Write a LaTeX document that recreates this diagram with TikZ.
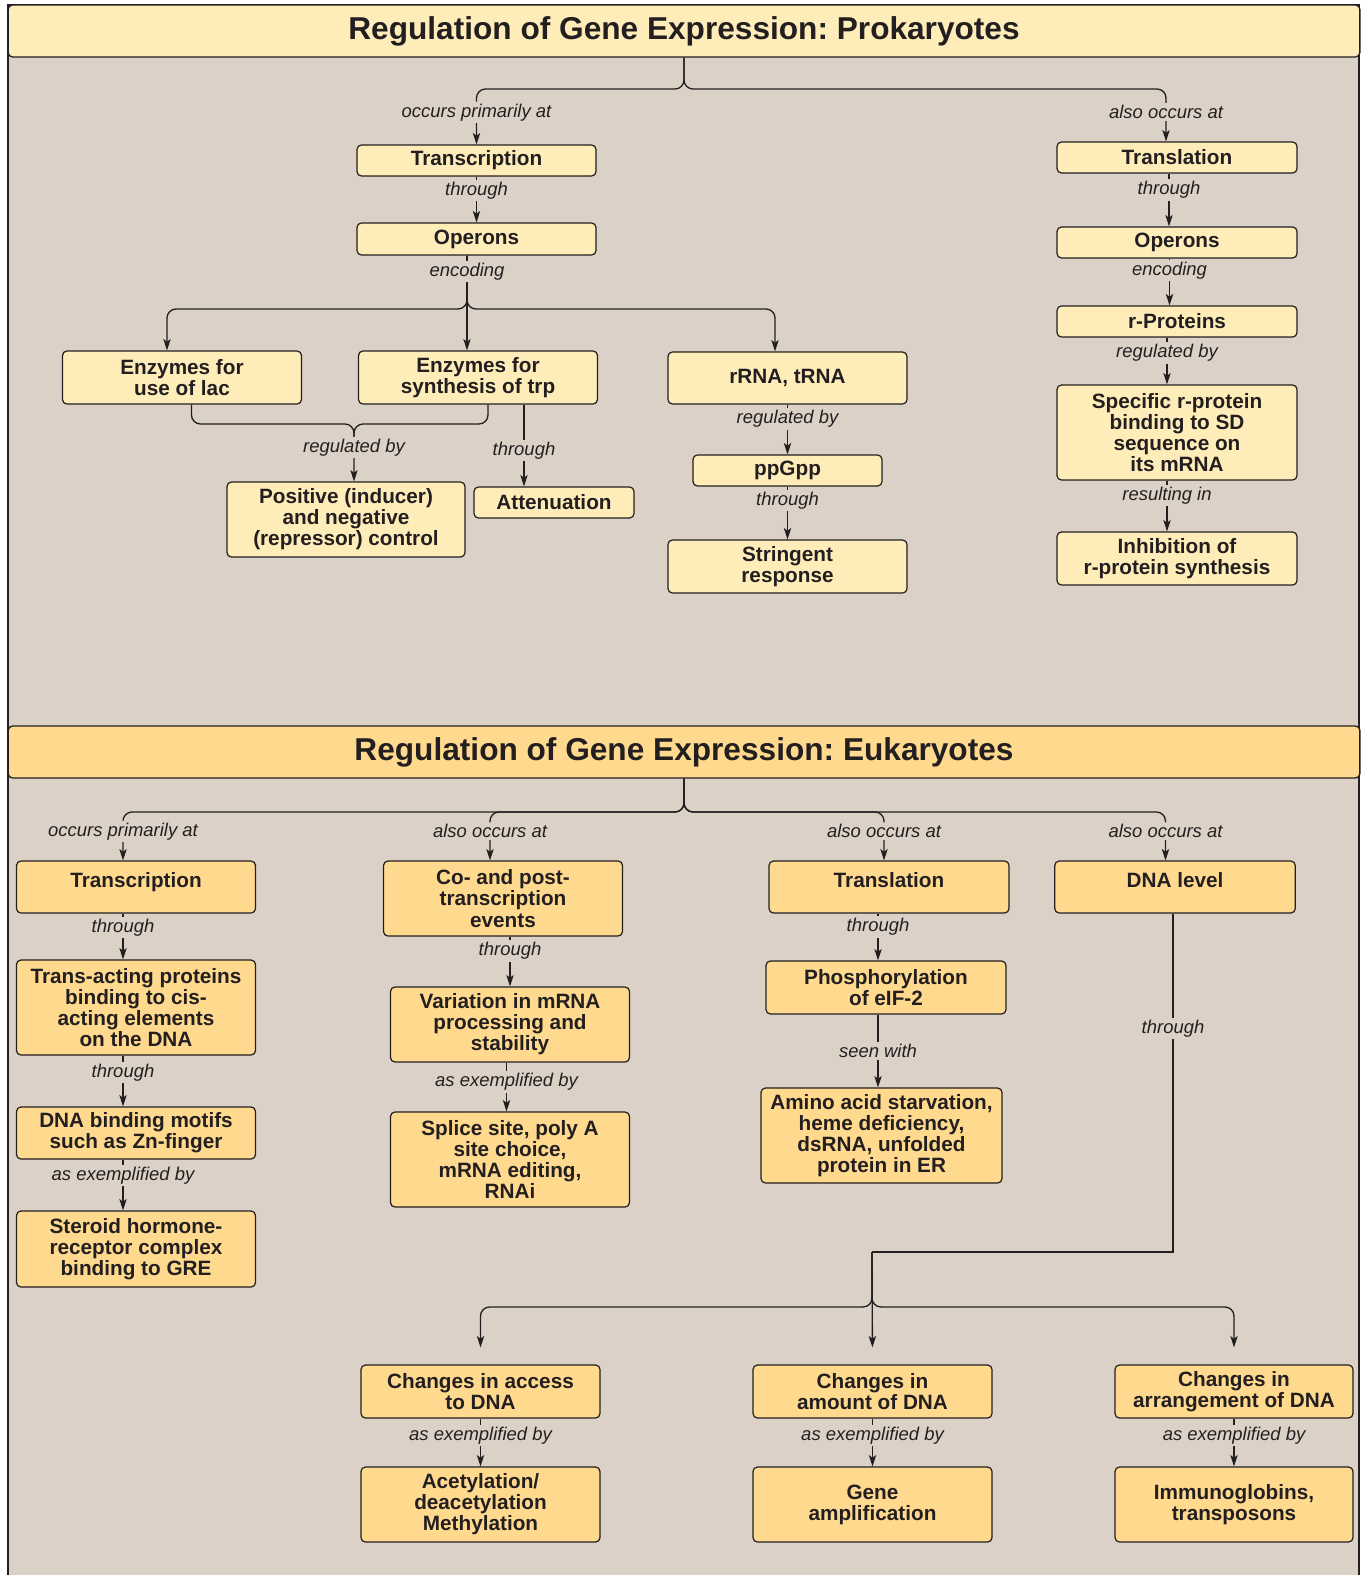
\documentclass[tikz,border=0pt]{standalone}
\usepackage{fontspec}
\setmainfont{Liberation Sans}
\frenchspacing
\usetikzlibrary{arrows.meta,calc,positioning}
\definecolor{RegPanelTan}{HTML}{DCD1C6}
\definecolor{RegProkYellow}{HTML}{FFEDB9}
\definecolor{RegEukGold}{HTML}{FFD98E}
\definecolor{RegInk}{HTML}{231F20}

\begin{document}
\begin{tikzpicture}[
  x=0.02cm, y=-0.02cm,
  font=\fontsize{11.8}{12}\selectfont,
  text=RegInk,
  pbox/.style={draw=RegInk, rounded corners=2.5pt, line width=0.7pt,
    fill=RegProkYellow, align=center, minimum width=4.78cm, minimum height=0.62cm,
    inner sep=1.5pt, font=\fontsize{11.8}{12}\selectfont\bfseries},
  ebox/.style={pbox, fill=RegEukGold},
  titlebar/.style={draw=RegInk, rounded corners=2.5pt, line width=0.75pt,
    minimum width=27.04cm, minimum height=1.04cm, inner sep=0pt,
    font=\fontsize{18}{20}\selectfont\bfseries},
  lbl/.style={fill=RegPanelTan, inner sep=1.2pt,
    font=\fontsize{10.5}{12}\selectfont\itshape},
  conn/.style={line width=0.75pt, draw=RegInk},
  arr/.style={conn, -{Stealth[length=6.5pt, width=4.2pt, inset=1.6pt]}},
  brace/.style={rounded corners=0.18cm}
]
\useasboundingbox (0,0) rectangle (1365,1575);
\draw[conn, fill=RegPanelTan] (8,5) rectangle (1359,1620);

\node[titlebar, fill=RegProkYellow] (ptitle) at (684,31) {Regulation of Gene Expression: Prokaryotes};
\node[pbox] (ptrans) at (476.5,160.5) {Transcription};
\node[pbox, minimum height=0.64cm] (pope) at (476.5,239) {Operons};
\node[pbox, minimum height=1.06cm] (plac) at (182,377.5) {Enzymes for\\use of lac};
\node[pbox, minimum height=1.06cm] (ptrp) at (478,377.5) {Enzymes for\\synthesis of trp};
\node[pbox, minimum height=1.04cm] (prna) at (787.5,378) {rRNA, tRNA};
\node[pbox, minimum width=3.78cm] (pppg) at (787.5,470.5) {ppGpp};
\node[pbox, minimum height=1.06cm] (pstr) at (787.5,566.5) {Stringent\\response};
\node[pbox, minimum width=4.76cm, minimum height=1.5cm] (ppos) at (346,519.5) {Positive (inducer)\\and negative\\(repressor) control};
\node[pbox, minimum width=3.2cm] (patt) at (554,502.5) {Attenuation};
\node[pbox, minimum width=4.8cm] (ptl) at (1177,157.5) {Translation};
\node[pbox, minimum width=4.8cm] (pop2) at (1177,242.5) {Operons};
\node[pbox, minimum width=4.8cm] (prp) at (1177,321.5) {r-Proteins};
\node[pbox, minimum width=4.8cm, minimum height=1.9cm] (pspec) at (1177,432.5) {Specific r-protein\\binding to SD\\sequence on\\its mRNA};
\node[pbox, minimum width=4.8cm, minimum height=1.06cm] (pinh) at (1177,558.5) {Inhibition of\\r-protein synthesis};

\coordinate (pj) at (684,89);
\draw[arr, brace] (ptitle.south) -- (pj) -| node[lbl, pos=0.71] {occurs primarily at} (ptrans.north);
\draw[arr, brace] (ptitle.south) -- (pj) -| node[lbl, pos=0.72] {also occurs at} ([xshift=-0.22cm]ptl.north);
\draw[arr] (ptrans) -- node[lbl, pos=0.3] {through} (pope);

\coordinate (pk) at (467,309);
\draw[arr, brace] (pk |- pope.south) -- (pk) -| ([xshift=-0.3cm]plac.north);
\draw[arr, brace] (pk |- pope.south) -- (pk) -| ([xshift=-0.25cm]prna.north);
\draw[arr] (pk |- pope.south) -- node[lbl, pos=0.165] {encoding} (pk |- ptrp.north);

\coordinate (pb) at (354,424);
\draw[conn, brace] ([xshift=0.19cm]plac.south) |- (pb) -- ($(pb)+(0,15)$);
\draw[arr, brace] ([xshift=0.2cm]ptrp.south) |- (pb) -- node[lbl, pos=0.41] {regulated by} (pb |- ppos.north);
\coordinate (pa) at ([xshift=0.92cm]ptrp.south);
\draw[arr] (pa) -- node[lbl, pos=0.56] {through} (pa |- patt.north);

\draw[arr] (prna) -- node[lbl, pos=0.29] {regulated by} (pppg);
\draw[arr] (pppg) -- node[lbl, pos=0.26] {through} (pstr);

\draw[arr] ([xshift=-0.16cm]ptl.south) -- node[lbl, pos=0.31] {through} ([xshift=-0.16cm]pop2.north);
\draw[arr] ([xshift=-0.15cm]pop2.south) -- node[lbl, pos=0.26] {encoding} ([xshift=-0.15cm]prp.north);
\draw[arr] ([xshift=-0.2cm]prp.south) -- node[lbl, pos=0.33] {regulated by} ([xshift=-0.2cm]pspec.north);
\draw[arr] ([xshift=-0.2cm]pspec.south) -- node[lbl, pos=0.29] {resulting in} ([xshift=-0.2cm]pinh.north);

\node[titlebar, fill=RegEukGold] (etitle) at (684,752) {Regulation of Gene Expression: Eukaryotes};
\node[ebox, minimum height=1.04cm] (etrans) at (136,887) {Transcription\\[-4pt]\mbox{}};
\node[ebox, minimum height=1.5cm] (ecop) at (503,898.5) {Co- and post-\\transcription\\events};
\node[ebox, minimum width=4.8cm, minimum height=1.04cm] (etl) at (889,887) {Translation\\[-4pt]\mbox{}};
\node[ebox, minimum width=4.81cm, minimum height=1.04cm] (edna) at (1175,887) {DNA level\\[-4pt]\mbox{}};
\node[ebox, minimum height=1.9cm] (etact) at (136,1007.5) {Trans-acting proteins\\binding to cis-\\acting elements\\on the DNA};
\node[ebox, minimum height=1.5cm] (evar) at (510,1024.5) {Variation in mRNA\\processing and\\stability};
\node[ebox, minimum width=4.8cm, minimum height=1.06cm] (ephos) at (886,987.5) {Phosphorylation\\of eIF-2};
\node[ebox, minimum height=1.04cm] (edbm) at (136,1133) {DNA binding motifs\\such as Zn-finger};
\node[ebox, minimum height=1.9cm] (esplice) at (510,1159.5) {Splice site, poly A\\site choice,\\mRNA editing,\\RNAi};
\node[ebox, minimum width=4.82cm, minimum height=1.9cm] (eamino) at (881.5,1135.5) {Amino acid starvation,\\heme deficiency,\\dsRNA, unfolded\\protein in ER};
\node[ebox, minimum height=1.52cm] (esteroid) at (136,1249) {Steroid hormone-\\receptor complex\\binding to GRE};
\node[ebox, minimum height=1.06cm] (eacc) at (480.5,1391.5) {Changes in access\\to DNA};
\node[ebox, minimum height=1.06cm] (eamt) at (872.5,1391.5) {Changes in\\amount of DNA};
\node[ebox, minimum width=4.76cm, minimum height=1.06cm] (earr) at (1234,1391.5) {Changes in\\arrangement of DNA};
\node[ebox, minimum height=1.5cm] (eacet) at (480.5,1504.5) {Acetylation/\\deacetylation\\Methylation};
\node[ebox, minimum height=1.5cm] (egene) at (872.5,1504.5) {Gene\\amplification};
\node[ebox, minimum width=4.76cm, minimum height=1.5cm] (eimm) at (1234,1504.5) {Immunoglobins,\\transposons};

\coordinate (ej) at (684,812);
\draw[arr, brace] (etitle.south) -- (ej) -| node[lbl, pos=0.7] {occurs primarily at} ([xshift=-0.26cm]etrans.north);
\draw[arr, brace] (etitle.south) -- (ej) -| node[lbl, pos=0.7] {also occurs at} ([xshift=-0.26cm]ecop.north);
\draw[arr, brace] (etitle.south) -- (ej) -| node[lbl, pos=0.7] {also occurs at} ([xshift=-0.1cm]etl.north);
\draw[arr, brace] (etitle.south) -- (ej) -| node[lbl, pos=0.7] {also occurs at} ([xshift=-0.19cm]edna.north);

\draw[arr] ([xshift=-0.26cm]etrans.south) -- node[lbl, pos=0.3] {through} ([xshift=-0.26cm]etact.north);
\draw[arr] ([xshift=-0.26cm]etact.south) -- node[lbl, pos=0.33] {through} ([xshift=-0.26cm]edbm.north);
\draw[arr] ([xshift=-0.26cm]edbm.south) -- node[lbl, pos=0.31] {as exemplified by} ([xshift=-0.26cm]esteroid.north);
\draw[arr] (evar.north |- ecop.south) -- node[lbl, pos=0.29] {through} (evar.north);
\draw[arr] ([xshift=-0.07cm]evar.south) -- node[lbl, pos=0.4] {as exemplified by} ([xshift=-0.07cm]esplice.north);
\draw[arr] ($(ephos.north |- etl.south)+(-0.16cm,0)$) -- node[lbl, pos=0.29] {through} ([xshift=-0.16cm]ephos.north);
\draw[arr] ([xshift=-0.16cm]ephos.south) -- node[lbl, pos=0.5] {seen with} ($(ephos.south |- eamino.north)+(-0.16cm,0)$);

\coordinate (dk) at (1173,1252);
\coordinate (dm) at (872,1252);
\coordinate (dj) at (872,1307);
\draw[conn] (edna.south -| dk) -- node[lbl, pos=0.34] {through} (dk) -- (dm);
\draw[arr, brace, shorten >=0.34cm] (dm) -- (dj) -| (eacc.north);
\draw[arr, shorten >=0.34cm] (dm) -- (eamt.north);
\draw[arr, brace, shorten >=0.34cm] (dm) -- (dj) -| (earr.north);

\draw[arr] (eacc) -- node[lbl, pos=0.35] {as exemplified by} (eacet);
\draw[arr] (eamt) -- node[lbl, pos=0.35] {as exemplified by} (egene);
\draw[arr] (earr) -- node[lbl, pos=0.35] {as exemplified by} (eimm);
\end{tikzpicture}
\end{document}
